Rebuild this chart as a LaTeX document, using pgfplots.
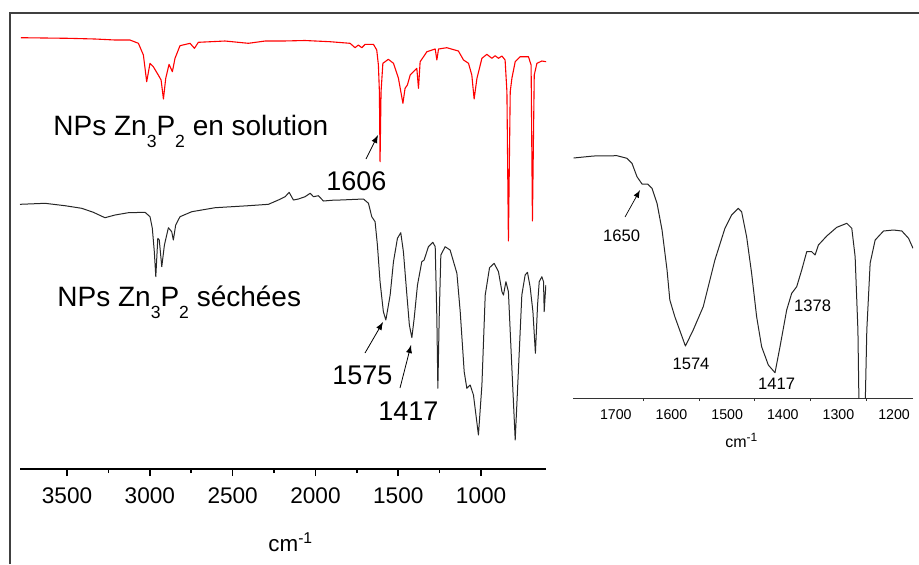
\documentclass[border=0pt]{standalone}
\usepackage{pgfplots}
\pgfplotsset{compat=1.18}
\usepackage{fontspec}
\setmainfont{Liberation Sans}
\newcommand\sub[1]{\raisebox{-6.3pt}{\fontsize{8.8}{10}\selectfont #1}}
\begin{document}
\begin{tikzpicture}
\useasboundingbox (0pt,0pt) rectangle (459.5pt,-282pt);
% outer frame (top and left edges)
\draw[line width=0.8pt, black!75] (5pt,-282pt) -- (5pt,-6.4pt) -- (459.5pt,-6.4pt);

\begin{axis}[
  at={(10pt,-234.5pt)}, anchor=south west,
  scale only axis, width=263pt, height=224.5pt,
  xmin=608, xmax=3784, ymin=0, ymax=449,
  x dir=reverse,
  axis x line*=bottom, hide y axis,
  x axis line style={line width=1.1pt},
  xtick={1000,1500,2000,2500,3000,3500},
  minor x tick num=1,
  tick align=outside,
  major tick length=3.5pt, minor tick length=2pt,
  tick style={black, line width=0.8pt},
  xticklabel style={font=\fontsize{11.3}{13}\selectfont, yshift=-2.4pt},
  /pgf/number format/assume math mode=true,
  /pgf/number format/1000 sep={},
]
\addplot[red, line width=0.55pt, line join=round] coordinates {
(3778,431.3) (3492,430.7) (3331,430) (3210,429) (3120,429) (3069,425.7)
(3039,414) (3019,387.3) (2999,405.7) (2979,402.3) (2949,394) (2932,389)
(2918,370) (2904,390.7) (2884,404.7) (2864,397.3) (2848,410.7) (2818,423.3)
(2757,425.7) (2731,420.7) (2707,426.7) (2546,428) (2405,425.7) (2304,428)
(2194,428) (2063,428.5) (1912,427.3) (1791,425.7) (1761,421.3) (1741,424)
(1720,421.3) (1700,424.7) (1650,424.7) (1630,419) (1620,404) (1614,377.3)
(1610,307.3) (1604,377.3) (1593,405.7) (1560,409.7) (1529,405.7) (1499,390.7)
(1472,365.7) (1459,380.7) (1445,384) (1428,394) (1398,399) (1388,400.7)
(1378,380.7) (1368,407.3) (1327,417.3) (1277,420) (1267,409) (1257,420)
(1207,421.3) (1137,418) (1106,409) (1076,405.7) (1056,394) (1042,370)
(1025,390.7) (995,410.7) (965,414.7) (935,410.7) (915,413.3) (895,410.7)
(874,413) (855,409) (844,377.3) (835,228) (824,377.3) (814,390.7)
(794,407.3) (764,412.3) (714,412.3) (698,404) (690,248) (679,394)
(663,405.7) (633,408) (607,407.3)
};
\addplot[black!85, line width=0.5pt, line join=round] coordinates {
(3784,264.7) (3633,265.7) (3512,263.3) (3411,260.7) (3341,256.7) (3271,251.3)
(3210,254) (3130,256.3) (3029,256.7) (2999,252.3) (2985,240.7) (2973,217.3)
(2964,192.3) (2952,230.7) (2943,229) (2928,202.3) (2912,224) (2888,241.3)
(2868,237.3) (2858,229) (2844,244) (2818,252.3) (2747,257.3) (2606,261.3)
(2405,263.3) (2284,264.7) (2224,269) (2183,272.3) (2159,276.7) (2133,269)
(2103,270) (2063,272.3) (2032,275.7) (2012,272.3) (1982,273.3) (1952,268)
(1881,269) (1851,269) (1710,270) (1680,265.7) (1660,252.3) (1640,247.3)
(1626,224) (1610,187.3) (1590,157.3) (1575,149) (1549,174) (1529,207.3)
(1505,230.7) (1485,236.3) (1469,217.3) (1448,174) (1433,144) (1418,131.3)
(1404,150.7) (1384,184) (1358,207.3) (1344,209) (1318,222.3) (1291,226.7)
(1277,222.3) (1267,150.7) (1261,80.7) (1253,150.7) (1243,214) (1217,222.3)
(1187,219) (1146,195.7) (1126,157.3) (1102,97.3) (1086,80.7) (1066,84)
(1046,74) (1016,34) (995,84) (975,174) (949,201.3) (921,205.7)
(895,197.3) (874,177.3) (865,174) (850,187.3) (835,177.3) (814,100.7)
(794,29) (774,100.7) (754,174) (734,194) (720,196.7) (704,182.3)
(687,157.3) (672,115.7) (659,164) (649,187.3) (633,192.3) (623,187.3)
(619,157.3) (609,184)
};
\end{axis}

\begin{axis}[
  at={(286.5pt,-199pt)}, anchor=south west,
  scale only axis, width=170pt, height=124pt,
  xmin=1166, xmax=1777, ymin=0, ymax=248,
  x dir=reverse,
  axis x line*=bottom, hide y axis,
  x axis line style={line width=0.5pt, black!80},
  xtick={1200,1300,1400,1500,1600,1700},
  minor x tick num=1,
  tick align=outside,
  major tick length=0pt, minor tick length=1.5pt,
  tick style={black!80, line width=0.5pt},
  xticklabel style={font=\fontsize{7.1}{8}\selectfont, yshift=-2.2pt},
  /pgf/number format/assume math mode=true,
  /pgf/number format/1000 sep={},
]
\addplot[black!85, line width=0.5pt, line join=round] coordinates {
(1776,240) (1740,242) (1698,242.3) (1680,239.7) (1671,234.7) (1662,221.3)
(1653,214) (1643,214) (1635,209.7) (1626,194.7) (1617,168) (1608,128)
(1603,98) (1594,81.3) (1575,52) (1561,68) (1543,91.3) (1522,138)
(1504,169.7) (1492,183) (1480,189.7) (1474,186.3) (1465,161.3) (1456,124.7)
(1447,81.3) (1438,51.3) (1426,33) (1414,25.3) (1405,51.3) (1393,88)
(1384,104.7) (1375,111.3) (1366,128) (1357,146.3) (1348,146.3) (1342,143)
(1336,153) (1321,162) (1303,170.7) (1285,174.7) (1276,169.7) (1270,141.3)
(1265,68) (1263,-10) (1252,-10) (1249,68) (1243,135) (1234,158)
(1219,167) (1201,168) (1186,167) (1174,159.7) (1166,149.7)
};
\end{axis}

% annotations, main panel
\node[anchor=base west, inner sep=0pt, font=\fontsize{14}{16}\selectfont] at (26.5pt,-67.5pt) {NPs Zn\sub{3}P\sub{2} en solution};
\node[anchor=base west, inner sep=0pt, font=\fontsize{14}{16}\selectfont] at (28.5pt,-153pt) {NPs Zn\sub{3}P\sub{2} séchées};
\node[anchor=base west, inner sep=0pt, font=\fontsize{13.5}{16}\selectfont] at (163pt,-95.3pt) {1606};
\node[anchor=base west, inner sep=0pt, font=\fontsize{13.5}{16}\selectfont] at (166pt,-192pt) {1575};
\node[anchor=base west, inner sep=0pt, font=\fontsize{13.5}{16}\selectfont] at (189pt,-210.3pt) {1417};
\draw[-latex, line width=0.4pt] (183pt,-79.5pt) -- (189pt,-67.5pt);
\draw[-latex, line width=0.4pt] (182.5pt,-176.5pt) -- (191.5pt,-161pt);
\draw[-latex, line width=0.4pt] (200pt,-194pt) -- (205.5pt,-172.5pt);
\node[anchor=base west, inner sep=0pt, font=\fontsize{11.2}{13}\selectfont] at (134pt,-275.8pt) {cm\textsuperscript{-1}};
% annotations, inset
\node[inner sep=0pt, font=\fontsize{8.3}{10}\selectfont] at (310.8pt,-118pt) {1650};
\draw[-latex, line width=0.35pt] (312.5pt,-108.5pt) -- (320pt,-95pt);
\node[inner sep=0pt, font=\fontsize{8.3}{10}\selectfont] at (345.5pt,-182pt) {1574};
\node[inner sep=0pt, font=\fontsize{8.3}{10}\selectfont] at (388.3pt,-192pt) {1417};
\node[inner sep=0pt, font=\fontsize{8.3}{10}\selectfont] at (406.3pt,-152.8pt) {1378};
\node[anchor=base west, inner sep=0pt, font=\fontsize{8}{10}\selectfont] at (362.5pt,-223.8pt) {cm\textsuperscript{-1}};
\end{tikzpicture}
\end{document}
